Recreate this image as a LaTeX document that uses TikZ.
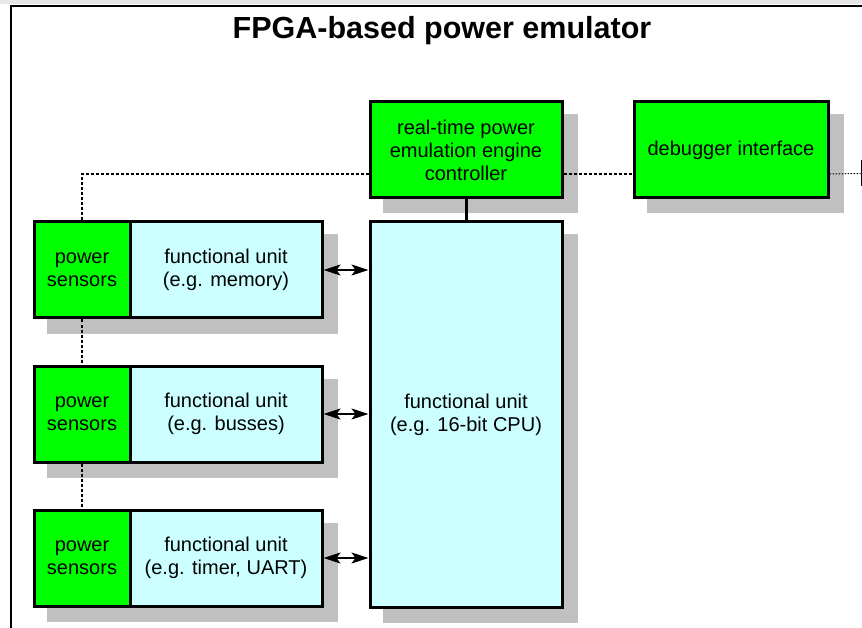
\documentclass[tikz,border=0pt]{standalone}
\usepackage{fontspec}
\setmainfont{Liberation Sans}
\usetikzlibrary{shadows,arrows.meta,calc}
\definecolor{unitgreen}{HTML}{00FF00}
\definecolor{unitcyan}{HTML}{CCFFFF}
\definecolor{shadegray}{HTML}{C0C0C0}
\definecolor{stripgray}{HTML}{E6E6E6}
\begin{document}
\begin{tikzpicture}[x=1pt,y=-1pt,
  blk/.style={draw=black, line width=3pt, inner sep=0pt, align=center,
    font=\fontsize{20}{23}\selectfont,
    general shadow={fill=shadegray, draw=shadegray, line width=3pt,
      rounded corners=2pt, shadow xshift=14pt, shadow yshift=-14pt}},
  greenblk/.style={blk, fill=unitgreen},
  cyanblk/.style={blk, fill=unitcyan},
  sensor/.style={greenblk, minimum width=96pt, minimum height=96pt},
  unit/.style={cyanblk, minimum width=192pt, minimum height=96pt},
  sig/.style={line width=2pt, dash pattern=on 3pt off 2pt},
  finesig/.style={line width=1pt, dash pattern=on 1.5pt off 1.5pt},
  bus/.style={line width=2.2pt, >={Stealth[length=17pt,width=11pt,inset=4pt]}, <->}
]
\useasboundingbox (0,0) rectangle (862,628);
\clip (0,0) rectangle (862,628);
\fill[stripgray] (0,0) rectangle (862,4.5);

% outer frame and title
\draw[line width=2pt] (10.5,640) -- (10.5,6) -- (880,6);
\node[anchor=base, font=\bfseries\fontsize{30.5}{34}\selectfont] (title) at (442,39) {FPGA-based power emulator};

% controller, debugger and external port
\node[greenblk, minimum width=192pt, minimum height=96pt] (ctrl) at (466,150)
  {real-time power\\emulation engine\\controller};
\node[greenblk, minimum width=194pt, minimum height=96pt] (dbg) at (731,150)
  {debugger interface};
\node[draw=black, line width=1pt, minimum width=30pt, minimum height=25pt, anchor=west, inner sep=0pt] (ext) at (860.5,173.5) {};

% sensor / functional unit rows
\node[sensor] (ps1) at (82,270) {power\\sensors};
\node[unit]   (fu1) at (226,270) {functional unit\\(e.g. memory)};
\node[sensor] (ps2) at (82,414) {power\\sensors};
\node[unit]   (fu2) at (226,414) {functional unit\\(e.g. busses)};
\node[sensor] (ps3) at (82,558) {power\\sensors};
\node[unit]   (fu3) at (226,558) {functional unit\\(e.g. timer, UART)};

% CPU
\node[cyanblk, minimum width=192pt, minimum height=385pt] (cpu) at (466,414.5)
  {functional unit\\(e.g. 16-bit CPU)};

% connections
\draw[line width=3pt] (ctrl.south) -- (cpu.north);
\draw[sig] ([yshift=-24pt]ctrl.west) -| (ps1.north);
\draw[sig] ([yshift=-24pt]ctrl.east) -- ([yshift=-24pt]dbg.west);
\draw[finesig] ([yshift=-24pt]dbg.east) -- (ext.west);
\draw[sig] (ps1.south) -- (ps2.north);
\draw[sig] (ps2.south) -- (ps3.north);
\draw[bus] (fu1.east) -- (cpu.west |- fu1.east);
\draw[bus] (fu2.east) -- (cpu.west |- fu2.east);
\draw[bus] (fu3.east) -- (cpu.west |- fu3.east);
\end{tikzpicture}
\end{document}
